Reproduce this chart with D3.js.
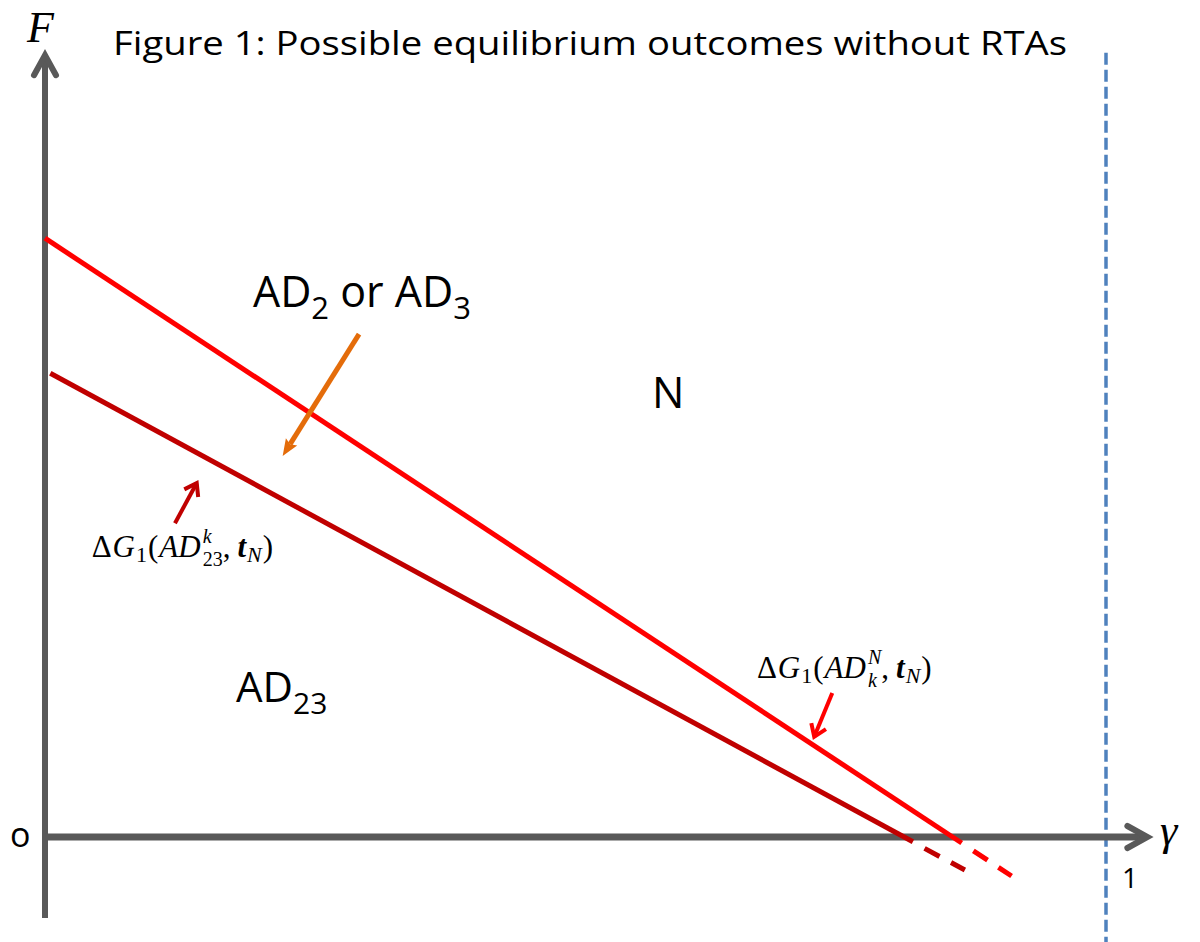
<!DOCTYPE html>
<html>
<head>
<meta charset="utf-8">
<script src="https://cdn.jsdelivr.net/npm/d3@7"></script>
<style>
  body { margin: 0; background: #fff; }
  svg { display: block; }
</style>
</head>
<body>
<svg id="chart" width="1200" height="942"></svg>
<script>
// data, in (gamma, F) units
const redSolid = [[0, 0.998], [0.864, -0.010]];
const redDashed = [[0.875, -0.023], [0.911, -0.065]];
const darkSolid = [[0.005, 0.773], [0.818, -0.008]];
const darkDashed = [[0.829, -0.019], [0.867, -0.055]];
const axisX = [0, 1.039];      // gamma range of horizontal axis
const axisY = [-0.135, 1.303]; // F range of vertical axis
const boundary = [1, [1.307, -0.18]]; // gamma = 1, dashed
const arrows = [
  { from: [0.296, 0.838], to: [0.224, 0.635], color: '#E46C0A', width: 5, head: 'fill' },
  { from: [0.1225, 0.523], to: [0.143, 0.59], color: '#C00000', width: 4, head: 'open' },
  { from: [0.742, 0.240], to: [0.725, 0.167], color: '#FF0000', width: 4, head: 'open' }
];

const svg = d3.select('#chart');
const x = d3.scaleLinear().domain([0, 1]).range([45, 1106]);
const y = d3.scaleLinear().domain([0, 1]).range([837, 237]);
const line = d3.line().x(d => x(d[0])).y(d => y(d[1]));

const gray = '#595959';

// title
svg.append('text')
  .attr('x', 590).attr('y', 55)
  .attr('text-anchor', 'middle')
  .attr('textLength', 954)
  .attr('lengthAdjust', 'spacingAndGlyphs')
  .style('font-family', '"Open Sans", sans-serif')
  .style('font-size', '33px')
  .text('Figure 1: Possible equilibrium outcomes without RTAs');

// boundary gamma = 1
svg.append('line')
  .attr('x1', x(boundary[0])).attr('x2', x(boundary[0]))
  .attr('y1', y(boundary[1][0])).attr('y2', y(boundary[1][1]))
  .attr('stroke', '#4F81BD').attr('stroke-width', 3.5)
  .attr('stroke-dasharray', '12,5');

// axes
svg.append('line')
  .attr('x1', x(0)).attr('x2', x(0))
  .attr('y1', y(axisY[0])).attr('y2', y(axisY[1]) + 2)
  .attr('stroke', gray).attr('stroke-width', 6);
svg.append('path')
  .attr('d', `M${x(0) - 11},${y(axisY[1]) + 20}L${x(0)},${y(axisY[1])}L${x(0) + 11},${y(axisY[1]) + 20}`)
  .attr('fill', 'none').attr('stroke', gray).attr('stroke-width', 6)
  .attr('stroke-linecap', 'round').attr('stroke-linejoin', 'miter');

svg.append('line')
  .attr('x1', x(axisX[0])).attr('x2', x(axisX[1]) - 2)
  .attr('y1', y(0)).attr('y2', y(0))
  .attr('stroke', gray).attr('stroke-width', 7);
svg.append('path')
  .attr('d', `M${x(axisX[1]) - 20},${y(0) - 11}L${x(axisX[1])},${y(0)}L${x(axisX[1]) - 20},${y(0) + 11}`)
  .attr('fill', 'none').attr('stroke', gray).attr('stroke-width', 6)
  .attr('stroke-linecap', 'round');

// region lines
svg.append('path').attr('d', line(redSolid))
  .attr('fill', 'none').attr('stroke', '#FF0000').attr('stroke-width', 5);
svg.append('path').attr('d', line(redDashed))
  .attr('fill', 'none').attr('stroke', '#FF0000').attr('stroke-width', 5)
  .attr('stroke-dasharray', '17,13');
svg.append('path').attr('d', line(darkSolid))
  .attr('fill', 'none').attr('stroke', '#C00000').attr('stroke-width', 5);
svg.append('path').attr('d', line(darkDashed))
  .attr('fill', 'none').attr('stroke', '#C00000').attr('stroke-width', 5)
  .attr('stroke-dasharray', '17,13');

// annotation arrows
arrows.forEach(a => {
  const x0 = x(a.from[0]), y0 = y(a.from[1]);
  const x1 = x(a.to[0]), y1 = y(a.to[1]);
  const ang = Math.atan2(y1 - y0, x1 - x0);
  const len = a.head === 'fill' ? 18 : 14;
  const spread = a.head === 'fill' ? 0.38 : 0.6;
  const p1 = [x1 - len * Math.cos(ang - spread), y1 - len * Math.sin(ang - spread)];
  const p2 = [x1 - len * Math.cos(ang + spread), y1 - len * Math.sin(ang + spread)];
  if (a.head === 'fill') {
    const bx = x1 - (len - 4) * Math.cos(ang), by = y1 - (len - 4) * Math.sin(ang);
    svg.append('line').attr('x1', x0).attr('y1', y0).attr('x2', bx).attr('y2', by)
      .attr('stroke', a.color).attr('stroke-width', a.width);
    svg.append('path').attr('d', `M${x1},${y1}L${p1}L${bx},${by}L${p2}Z`)
      .attr('fill', a.color);
  } else {
    svg.append('line').attr('x1', x0).attr('y1', y0).attr('x2', x1).attr('y2', y1)
      .attr('stroke', a.color).attr('stroke-width', a.width);
    svg.append('path').attr('d', `M${p1}L${x1},${y1}L${p2}`)
      .attr('fill', 'none').attr('stroke', a.color).attr('stroke-width', a.width)
      .attr('stroke-linejoin', 'miter');
  }
});

// plain labels
const sans = '"Open Sans", sans-serif';
function subLabel(pos, parts, size, subSize) {
  const t = svg.append('text')
    .attr('x', x(pos[0])).attr('y', y(pos[1]))
    .style('font-family', sans).style('font-size', size + 'px');
  parts.forEach(p => {
    t.append('tspan')
      .attr('dy', p.sub ? 12 : (p.back ? -12 : 0))
      .style('font-size', (p.sub ? subSize : size) + 'px')
      .text(p.t);
  });
}
subLabel([0.196, 0.883], [{ t: 'AD' }, { t: '2', sub: true }, { t: ' or AD', back: true }, { t: '3', sub: true }], 43, 31);
subLabel([0.572, 0.715], [{ t: 'N' }], 43, 30);
subLabel([0.180, 0.225], [{ t: 'AD' }, { t: '23', sub: true }], 42, 30);

svg.append('text').attr('x', 10).attr('y', y(0) + 10)
  .style('font-family', sans).style('font-size', '34px').text('o');
svg.append('text').attr('x', x(1) + 16).attr('y', 888)
  .style('font-family', sans).style('font-size', '28px').text('1');

const serif = '"Liberation Serif", "DejaVu Serif", serif';
svg.append('text').attr('x', 27).attr('y', 42)
  .style('font-family', serif).style('font-style', 'italic').style('font-size', '44px').text('F');
svg.append('text').attr('x', 1160).attr('y', 845)
  .style('font-family', serif).style('font-style', 'italic').style('font-size', '44px').text('γ');

// math labels built from pieces
function mathLabel(pos, pieces) {
  const g = svg.append('g');
  let cx = x(pos[0]), lastStart = cx, lastEnd = cx;
  const by = y(pos[1]);
  pieces.forEach(p => {
    const sx = p.stack ? lastStart : cx;
    const t = g.append('text')
      .attr('x', sx).attr('y', by + (p.dy || 0))
      .style('font-family', serif)
      .style('font-size', (p.size || 31) + 'px')
      .style('font-style', p.it ? 'italic' : 'normal')
      .style('font-weight', p.bold ? 'bold' : 'normal')
      .text(p.t);
    const w = t.node().getComputedTextLength();
    if (p.stack) {
      cx = Math.max(lastEnd, sx + w);
    } else {
      lastStart = sx;
      lastEnd = sx + w;
      cx = sx + w;
    }
    if (p.gap) cx += p.gap;
  });
}
mathLabel([0.044, 0.467], [
  { t: 'Δ', gap: 1 }, { t: 'G', it: true, gap: 1 }, { t: '1', size: 22, dy: 5, gap: 1 }, { t: '(', gap: 1 },
  { t: 'AD', it: true, gap: 2 }, { t: 'k', it: true, size: 20, dy: -14 },
  { t: '23', size: 20, dy: 9, stack: true }, { t: ',', gap: 7 },
  { t: 't', it: true, bold: true, gap: 1 }, { t: 'N', it: true, size: 22, dy: 5, gap: 1 }, { t: ')' }
]);
mathLabel([0.671, 0.265], [
  { t: 'Δ', gap: 1 }, { t: 'G', it: true, gap: 1 }, { t: '1', size: 22, dy: 5, gap: 1 }, { t: '(', gap: 1 },
  { t: 'AD', it: true, gap: 2 }, { t: 'N', it: true, size: 20, dy: -14 },
  { t: 'k', it: true, size: 20, dy: 9, stack: true }, { t: ',', gap: 7 },
  { t: 't', it: true, bold: true, gap: 1 }, { t: 'N', it: true, size: 22, dy: 5, gap: 1 }, { t: ')' }
]);
</script>
</body>
</html>
